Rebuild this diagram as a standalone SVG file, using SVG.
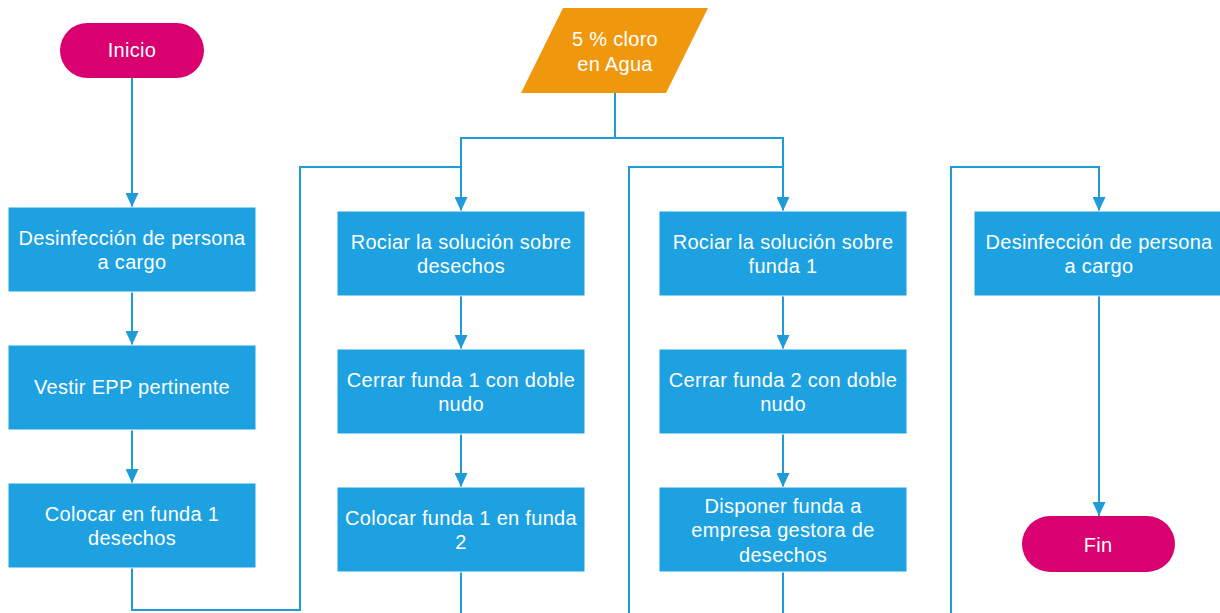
<svg xmlns="http://www.w3.org/2000/svg" width="1220" height="613" viewBox="0 0 1220 613">
<style>
.box{fill:#1DA1E1;stroke:#fff;stroke-width:1}
.term{fill:#D9006F}
.io{fill:#F0980D}
.t{font-family:"Liberation Sans",Arial,sans-serif;font-size:20px;letter-spacing:0.3px;fill:#fff;text-anchor:middle}
.c{fill:none;stroke:#1F9BD7;stroke-width:2}
</style>
<defs>
<marker id="ah" markerWidth="14" markerHeight="13" refX="14" refY="6.5" orient="auto" markerUnits="userSpaceOnUse">
<path d="M0,0 L14,6.5 L0,13 Z" fill="#1F9BD7"/>
</marker>
</defs>
<g id="connectors">
<path class="c" d="M132,78 V207" marker-end="url(#ah)"/>
<path class="c" d="M132,291 V345" marker-end="url(#ah)"/>
<path class="c" d="M132,429 V483" marker-end="url(#ah)"/>
<path class="c" d="M132,567 V610 H300 V167 H461"/>
<path class="c" d="M615,93 V138 H461 V211" marker-end="url(#ah)"/>
<path class="c" d="M615,138 H783 V211" marker-end="url(#ah)"/>
<path class="c" d="M461,296 V349" marker-end="url(#ah)"/>
<path class="c" d="M461,434 V487" marker-end="url(#ah)"/>
<path class="c" d="M461,572 V613"/>
<path class="c" d="M783,296 V349" marker-end="url(#ah)"/>
<path class="c" d="M783,434 V487" marker-end="url(#ah)"/>
<path class="c" d="M783,572 V613"/>
<path class="c" d="M629,613 V167 H783"/>
<path class="c" d="M951,613 V167 H1099 V211" marker-end="url(#ah)"/>
<path class="c" d="M1099,296 V516" marker-end="url(#ah)"/>
</g>
<g id="inicio"><rect class="term" x="60" y="23" width="144" height="55" rx="27.5"/><text class="t" x="132" y="57">Inicio</text></g>
<g id="cloro"><polygon class="io" points="563,8 708,8 666,93 521,93"/><text class="t" x="615" y="46">5 % cloro</text><text class="t" x="615" y="71">en Agua</text></g>
<g id="c1b1"><rect class="box" x="8" y="207" width="248" height="85"/><text class="t" x="132" y="245">Desinfección de persona</text><text class="t" x="132" y="269">a cargo</text></g>
<g id="c1b2"><rect class="box" x="8" y="345" width="248" height="85"/><text class="t" x="132" y="394">Vestir EPP pertinente</text></g>
<g id="c1b3"><rect class="box" x="8" y="483" width="248" height="85"/><text class="t" x="132" y="521">Colocar en funda 1</text><text class="t" x="132" y="545">desechos</text></g>
<g id="c2b1"><rect class="box" x="337" y="211" width="248" height="85"/><text class="t" x="461" y="249">Rociar la solución sobre</text><text class="t" x="461" y="273">desechos</text></g>
<g id="c2b2"><rect class="box" x="337" y="349" width="248" height="85"/><text class="t" x="461" y="387">Cerrar funda 1 con doble</text><text class="t" x="461" y="411">nudo</text></g>
<g id="c2b3"><rect class="box" x="337" y="487" width="248" height="85"/><text class="t" x="461" y="525">Colocar funda 1 en funda</text><text class="t" x="461" y="549">2</text></g>
<g id="c3b1"><rect class="box" x="659" y="211" width="248" height="85"/><text class="t" x="783" y="249">Rociar la solución sobre</text><text class="t" x="783" y="273">funda 1</text></g>
<g id="c3b2"><rect class="box" x="659" y="349" width="248" height="85"/><text class="t" x="783" y="387">Cerrar funda 2 con doble</text><text class="t" x="783" y="411">nudo</text></g>
<g id="c3b3"><rect class="box" x="659" y="487" width="248" height="85"/><text class="t" x="783" y="513">Disponer funda a</text><text class="t" x="783" y="537">empresa gestora de</text><text class="t" x="783" y="562">desechos</text></g>
<g id="c4b1"><rect class="box" x="974" y="211" width="248" height="85"/><text class="t" x="1099" y="249">Desinfección de persona</text><text class="t" x="1099" y="273">a cargo</text></g>
<g id="fin"><rect class="term" x="1022" y="516" width="153" height="56" rx="28"/><text class="t" x="1098" y="552">Fin</text></g>
</svg>
